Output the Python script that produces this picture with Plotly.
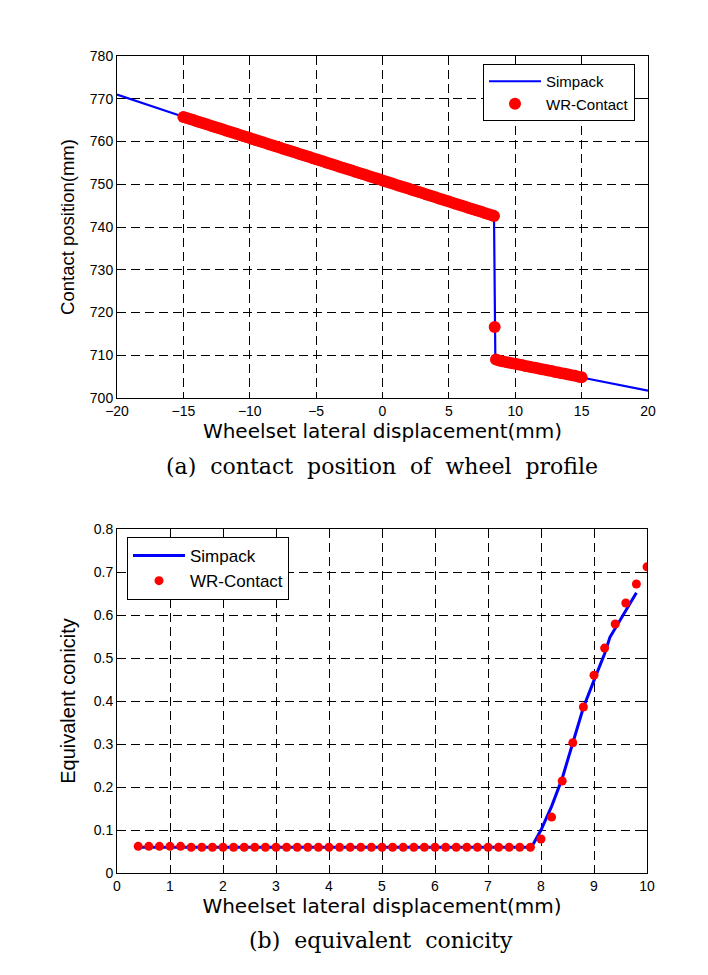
import plotly.graph_objects as go

# ---- Top chart: contact position of wheel profile ----
simpack_x_a = [-20, -15, -10, -5, 0, 5, 8.4, 8.5, 10, 15, 20]
simpack_y_a = [771.0, 765.8, 760.8, 755.9, 750.9, 745.9, 742.6, 709.2, 708.0, 704.8, 701.7]

wr_x_a = [-15, -14.75, -14.5, -14.25, -14, -13.75, -13.5, -13.25, -13, -12.75, -12.5, -12.25,
          -12, -11.75, -11.5, -11.25, -11, -10.75, -10.5, -10.25, -10, -9.75, -9.5, -9.25,
          -9, -8.75, -8.5, -8.25, -8, -7.75, -7.5, -7.25, -7, -6.75, -6.5, -6.25,
          -6, -5.75, -5.5, -5.25, -5, -4.75, -4.5, -4.25, -4, -3.75, -3.5, -3.25,
          -3, -2.75, -2.5, -2.25, -2, -1.75, -1.5, -1.25, -1, -0.75, -0.5, -0.25,
          0, 0.25, 0.5, 0.75, 1, 1.25, 1.5, 1.75, 2, 2.25, 2.5, 2.75,
          3, 3.25, 3.5, 3.75, 4, 4.25, 4.5, 4.75, 5, 5.25, 5.5, 5.75,
          6, 6.25, 6.5, 6.75, 7, 7.25, 7.5, 7.75, 8, 8.25, 8.4,
          8.45,
          8.55, 8.75, 9, 9.25, 9.5, 9.75, 10, 10.25, 10.5, 10.75, 11, 11.25, 11.5, 11.75,
          12, 12.25, 12.5, 12.75, 13, 13.25, 13.5, 13.75, 14, 14.25, 14.5, 14.75, 15]
wr_y_a = [765.75, 765.50, 765.26, 765.01, 764.76, 764.51, 764.27, 764.02, 763.77, 763.52,
          763.28, 763.03, 762.78, 762.53, 762.29, 762.04, 761.79, 761.54, 761.30, 761.05,
          760.80, 760.55, 760.31, 760.06, 759.81, 759.56, 759.32, 759.07, 758.82, 758.57,
          758.33, 758.08, 757.83, 757.58, 757.34, 757.09, 756.84, 756.59, 756.35, 756.10,
          755.85, 755.60, 755.36, 755.11, 754.86, 754.61, 754.37, 754.12, 753.87, 753.62,
          753.38, 753.13, 752.88, 752.63, 752.39, 752.14, 751.89, 751.64, 751.40, 751.15,
          750.90, 750.65, 750.41, 750.16, 749.91, 749.66, 749.42, 749.17, 748.92, 748.67,
          748.43, 748.18, 747.93, 747.68, 747.44, 747.19, 746.94, 746.69, 746.45, 746.20,
          745.95, 745.70, 745.46, 745.21, 744.96, 744.71, 744.47, 744.22, 743.97, 743.72,
          743.48, 743.23, 742.98, 742.73, 742.60,
          716.6,
          709.0, 708.8, 708.6, 708.45, 708.3, 708.15, 708.0, 707.85, 707.7, 707.5, 707.35,
          707.2, 707.05, 706.9, 706.75, 706.6, 706.45, 706.3, 706.1, 705.95, 705.8, 705.65,
          705.5, 705.35, 705.2, 705.0, 704.85]

# ---- Bottom chart: equivalent conicity ----
simpack_x_b = [0.4, 7.82, 8.0, 8.2, 8.4, 8.6, 8.8, 9.0, 9.2, 9.3, 9.5, 9.8]
simpack_y_b = [0.06, 0.06, 0.10, 0.155, 0.22, 0.30, 0.385, 0.448, 0.51, 0.548, 0.59, 0.652]

wr_x_b = [0.4, 0.6, 0.8, 1.0, 1.2, 1.4, 1.6, 1.8, 2.0, 2.2, 2.4, 2.6, 2.8, 3.0, 3.2, 3.4,
          3.6, 3.8, 4.0, 4.2, 4.4, 4.6, 4.8, 5.0, 5.2, 5.4, 5.6, 5.8, 6.0, 6.2, 6.4, 6.6,
          6.8, 7.0, 7.2, 7.4, 7.6, 7.8, 8.0, 8.2, 8.4, 8.6, 8.8, 9.0, 9.2, 9.4, 9.6, 9.8, 10.0]
wr_y_b = [0.062, 0.062, 0.062, 0.062, 0.062, 0.060, 0.060, 0.060, 0.060, 0.060, 0.060, 0.060,
          0.060, 0.060, 0.060, 0.060, 0.060, 0.060, 0.060, 0.060, 0.060, 0.060, 0.060, 0.060,
          0.060, 0.060, 0.060, 0.060, 0.060, 0.060, 0.060, 0.060, 0.060, 0.060, 0.060, 0.060,
          0.060, 0.060, 0.079, 0.130, 0.214, 0.303, 0.386, 0.460, 0.523, 0.579, 0.628, 0.672, 0.712]

xticks_a = [-20, -15, -10, -5, 0, 5, 10, 15, 20]
yticks_a = [700, 710, 720, 730, 740, 750, 760, 770, 780]
xticks_b = [0, 1, 2, 3, 4, 5, 6, 7, 8, 9, 10]
yticks_b = [0, 0.1, 0.2, 0.3, 0.4, 0.5, 0.6, 0.7, 0.8]
ytick_b_text = ["0", "0.1", "0.2", "0.3", "0.4", "0.5", "0.6", "0.7", "0.8"]

# figure size (page body has an 8px margin)
W, H = 692, 959
OFF = 8
FONT = "Liberation Sans, Arial, sans-serif"
WIDE = "DejaVu Sans, sans-serif"


def px(x):
    return (x - OFF) / W


def py(y):
    return 1 - (y - OFF) / H


fig = go.Figure()

fig.add_trace(go.Scatter(x=simpack_x_a, y=simpack_y_a, mode="lines", name="Simpack",
                         line=dict(color="#0000ff", width=2.2), xaxis="x", yaxis="y",
                         legend="legend"))
fig.add_trace(go.Scatter(x=wr_x_a, y=wr_y_a, mode="markers", name="WR-Contact",
                         marker=dict(color="#ff0000", size=12), xaxis="x", yaxis="y",
                         legend="legend"))
fig.add_trace(go.Scatter(x=simpack_x_b, y=simpack_y_b, mode="lines", name="Simpack",
                         line=dict(color="#0000ff", width=3), xaxis="x2", yaxis="y2",
                         legend="legend2"))
fig.add_trace(go.Scatter(x=wr_x_b, y=wr_y_b, mode="markers", name="WR-Contact",
                         marker=dict(color="#ff0000", size=9), xaxis="x2", yaxis="y2",
                         legend="legend2"))

axis_common = dict(
    showline=True, linecolor="black", linewidth=1, mirror="ticks",
    ticks="inside", ticklen=5, tickcolor="black", automargin=False,
    showgrid=True, gridcolor="black", griddash="9px,5px", gridwidth=1,
    zeroline=False, tickfont=dict(family=FONT, size=14, color="black"),
)

fig.update_layout(
    width=W, height=H,
    margin=dict(l=0, r=0, t=0, b=0),
    paper_bgcolor="white", plot_bgcolor="white",
    font=dict(family=FONT, color="black"),
    xaxis=dict(axis_common, domain=[px(117), px(648)], anchor="y", range=[-20, 20],
               tickvals=xticks_a,
               title=dict(text="Wheelset lateral displacement(mm)",
                          font=dict(family=WIDE, size=20), standoff=2)),
    yaxis=dict(axis_common, domain=[py(398), py(56)], anchor="x", range=[700, 780],
               tickvals=yticks_a,
               title=dict(text="Contact position(mm)", font=dict(family=FONT, size=18.5),
                          standoff=10)),
    xaxis2=dict(axis_common, domain=[px(117), px(647)], anchor="y2", range=[0, 10],
                tickvals=xticks_b,
                title=dict(text="Wheelset lateral displacement(mm)",
                           font=dict(family=WIDE, size=20), standoff=2)),
    yaxis2=dict(axis_common, domain=[py(873), py(529)], anchor="x2", range=[0, 0.8],
                tickvals=yticks_b, ticktext=ytick_b_text,
                title=dict(text="Equivalent conicity", font=dict(family=FONT, size=20),
                           standoff=12)),
    legend=dict(x=px(483), y=py(64), xanchor="left", yanchor="top",
                bgcolor="white", bordercolor="black", borderwidth=1, itemwidth=52,
                font=dict(family=FONT, size=15), tracegroupgap=0),
    legend2=dict(x=px(127), y=py(537), xanchor="left", yanchor="top",
                 bgcolor="white", bordercolor="black", borderwidth=1, itemwidth=52,
                 font=dict(family=FONT, size=17), tracegroupgap=0),
    showlegend=True,
)

CAP_FONT = dict(family="DejaVu Serif, serif", size=22, color="black")
SP = "\u00a0 "
fig.add_annotation(text=SP.join(["(a)", "contact", "position", "of", "wheel", "profile"]),
                   x=px(382), y=py(466),
                   xref="paper", yref="paper", showarrow=False, font=CAP_FONT,
                   xanchor="center", yanchor="middle")
fig.add_annotation(text=SP.join(["(b)", "equivalent", "conicity"]),
                   x=px(381), y=py(940),
                   xref="paper", yref="paper", showarrow=False, font=CAP_FONT,
                   xanchor="center", yanchor="middle")

fig.write_html("out.html")
